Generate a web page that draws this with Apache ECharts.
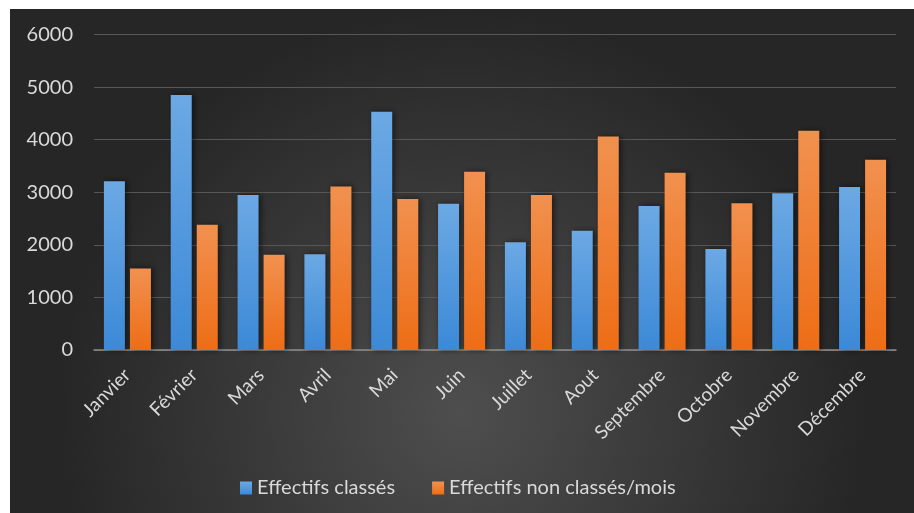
<!DOCTYPE html>
<html>
<head>
<meta charset="utf-8">
<script src="https://cdn.jsdelivr.net/npm/echarts@6/dist/echarts.min.js"></script>
<style>
  html, body { margin: 0; padding: 0; background: #fff; }
  #chart { position: absolute; left: 10px; top: 9px; width: 904px; height: 504px; }
</style>
</head>
<body>
<div id="chart"></div>
<script>
// mois
let months = ['Janvier', 'Février', 'Mars', 'Avril', 'Mai', 'Juin', 'Juillet', 'Aout', 'Septembre', 'Octobre', 'Novembre', 'Décembre']
let classes = [3210, 4850, 2950, 1820, 4530, 2780, 2050, 2270, 2740, 1920, 2980, 3100]
let nonClasses = [1550, 2380, 1810, 3110, 2870, 3390, 2950, 4060, 3370, 2790, 4170, 3620]
let yTicks = [0, 1000, 2000, 3000, 4000, 5000, 6000]

let fontName = 'Lato'
let textColor = '#d9d9d9'

function grad (top, bottom) {
  return {
    type: 'linear', x: 0, y: 0, x2: 0, y2: 1,
    colorStops: [{ offset: 0, color: top }, { offset: 1, color: bottom }]
  }
}

let myChart = echarts.init(document.getElementById('chart'))
let option = {
  backgroundColor: {
    type: 'radial', x: 0.5, y: 0.8, r: 0.8,
    colorStops: [
      { offset: 0, color: '#4e4e4e' },
      { offset: 1, color: '#262626' }
    ]
  },
  animation: false,
  textStyle: { fontFamily: fontName, color: textColor },
  grid: { left: 84, width: 802, top: 25.5, height: 315.5 },
  legend: {
    data: ['Effectifs classés', 'Effectifs non classés/mois'],
    left: 225,
    top: 464,
    itemWidth: 12,
    itemHeight: 13,
    itemGap: 37,
    icon: 'rect',
    textStyle: { color: textColor, fontSize: 20, fontFamily: fontName }
  },
  xAxis: {
    type: 'category',
    data: months,
    axisTick: { show: false },
    axisLine: { lineStyle: { color: '#8f8f8f', width: 1.5 } },
    axisLabel: { rotate: 45, fontSize: 19, color: textColor, margin: 22, interval: 0 }
  },
  yAxis: {
    type: 'value',
    min: yTicks[0],
    max: yTicks[yTicks.length - 1],
    interval: 1000,
    axisLine: { show: false },
    axisTick: { show: false },
    axisLabel: { fontSize: 20, color: textColor, margin: 21, formatter: v => String(v) },
    splitLine: { lineStyle: { color: '#575757', width: 1 } }
  },
  series: [
    {
      name: 'Effectifs classés',
      type: 'bar',
      data: classes,
      barWidth: 21,
      barGap: '24%',
      itemStyle: {
        color: grad('#6ca9e4', '#3c89d7'),
        shadowColor: 'rgba(0,0,0,0.55)',
        shadowBlur: 6,
        shadowOffsetX: 2
      }
    },
    {
      name: 'Effectifs non classés/mois',
      type: 'bar',
      data: nonClasses,
      barWidth: 21,
      barGap: '24%',
      itemStyle: {
        color: grad('#f1914f', '#ee6d16'),
        shadowColor: 'rgba(0,0,0,0.55)',
        shadowBlur: 6,
        shadowOffsetX: 2
      }
    }
  ]
}
myChart.setOption(option, true)
</script>
</body>
</html>
